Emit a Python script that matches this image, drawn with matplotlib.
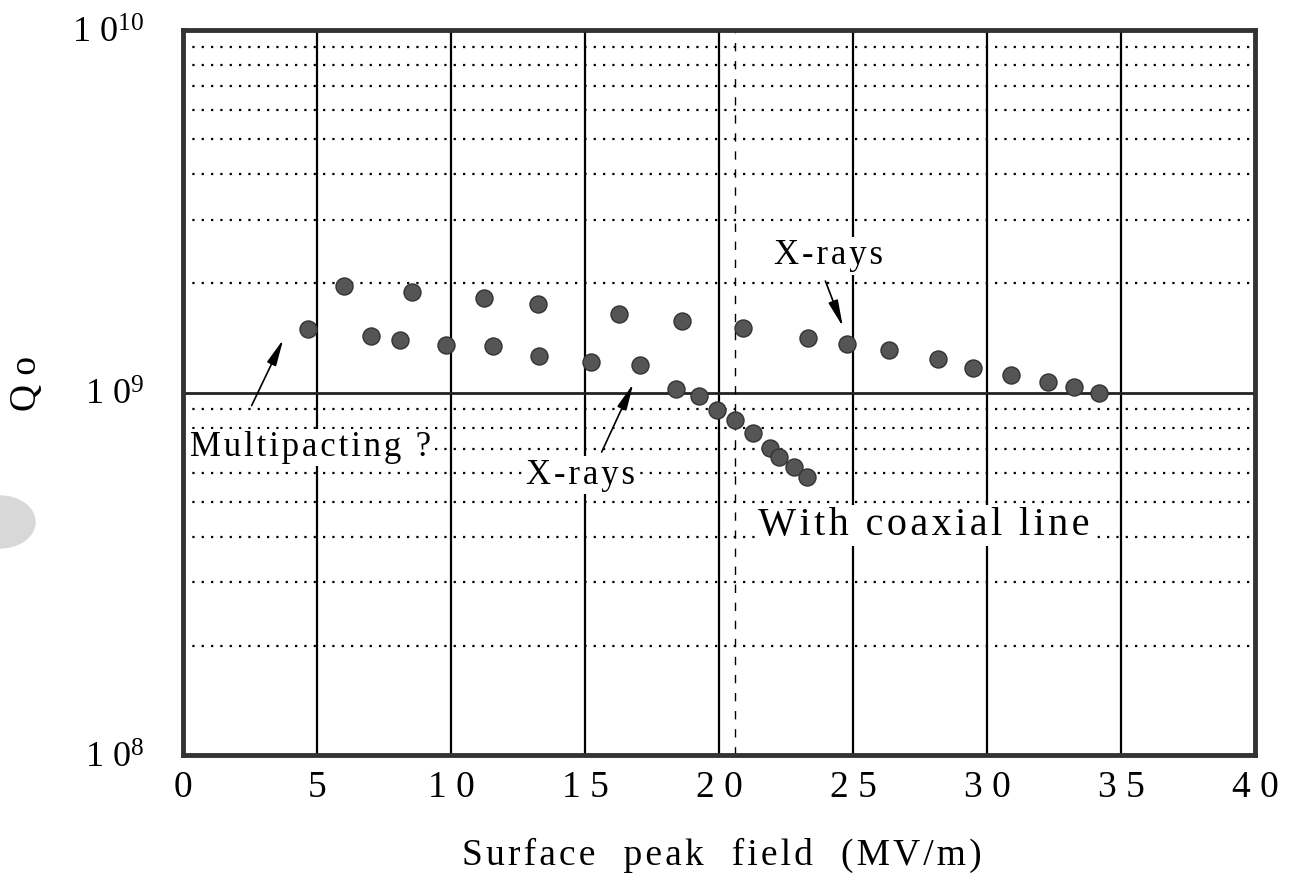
import numpy as np
import matplotlib
matplotlib.use("Agg")
import matplotlib.pyplot as plt
from matplotlib.patches import Ellipse

# surface peak field (MV/m) and Q0
field_main = [4.67, 6.02, 7.0, 8.10, 8.56, 9.80, 11.23, 11.56, 13.23, 13.29,
              15.24, 16.27, 17.05, 18.63, 20.88, 23.31, 24.76, 26.36, 28.19,
              29.47, 30.90, 32.26, 33.26, 34.18]
q0_main = [1.50e9, 1.97e9, 1.43e9, 1.40e9, 1.89e9, 1.35e9, 1.82e9, 1.34e9, 1.75e9, 1.26e9,
           1.21e9, 1.65e9, 1.19e9, 1.57e9, 1.51e9, 1.41e9, 1.36e9, 1.31e9, 1.24e9,
           1.17e9, 1.12e9, 1.07e9, 1.035e9, 0.995e9]

field_coax = [18.41, 19.24, 19.91, 20.59, 21.26, 21.90, 22.23, 22.81, 23.29]
q0_coax = [1.02e9, 0.975e9, 0.893e9, 0.838e9, 0.771e9, 0.705e9, 0.664e9, 0.624e9, 0.585e9]

x_ticks = [0, 5, 10, 15, 20, 25, 30, 35, 40]
x_ticklabels = ["0", "5", "1 0", "1 5", "2 0", "2 5", "3 0", "3 5", "4 0"]
y_ticks = [1e8, 1e9, 1e10]
y_ticklabels = [r"1 0$^{8}$", r"1 0$^{9}$", r"1 0$^{10}$"]
coax_field = 20.6

plt.rcParams.update({
    "font.family": ["Liberation Serif", "DejaVu Serif"],
    "mathtext.fontset": "custom",
    "mathtext.rm": "Liberation Serif",
    "mathtext.it": "Liberation Serif",
})


def spaced(s):
    # the printed figure has loose letter spacing
    return "\u200a".join(s)


fig = plt.figure(figsize=(13.03, 8.88), dpi=100)
ax = fig.add_axes([183 / 1303, 1 - 755 / 888, 1072 / 1303, 725 / 888])

ax.set_yscale("log")
ax.set_xlim(0, 40)
ax.set_ylim(1e8, 1e10)

# grid: solid verticals, dotted minor horizontals, solid line at 1e9
for x in x_ticks[1:-1]:
    ax.axvline(x, color="black", lw=1.6, zorder=1)
for dec in [1e8, 1e9]:
    for m in range(2, 10):
        ax.axhline(m * dec, color="black", lw=1.6, ls=(0, (1, 3.2)), zorder=1)
ax.axhline(1e9, color="#222222", lw=2.0, zorder=1)
ax.axvline(coax_field, color="black", lw=1.0, ls=(0, (6, 7)), zorder=1)

ax.scatter(field_main, q0_main, s=150, color="#555555", edgecolor="#333333", lw=1, zorder=3)
ax.scatter(field_coax, q0_coax, s=150, color="#555555", edgecolor="#333333", lw=1, zorder=3)

box = dict(facecolor="white", edgecolor="none", pad=1.5)
ax.text(0.26, 7.07e8, spaced("Multipacting ?"), fontsize=25, ha="left", va="center", bbox=box, zorder=2)
ax.text(14.85, 5.92e8, spaced("X-rays"), fontsize=25, ha="center", va="center", bbox=box, zorder=2)
ax.text(24.1, 2.38e9, spaced("X-rays"), fontsize=25, ha="center", va="center", bbox=box, zorder=2)
ax.text(21.46, 4.29e8, spaced("With coaxial line"), fontsize=29, ha="left", va="center", bbox=box, zorder=2)

arrow = dict(arrowstyle="-|>,head_length=1.6,head_width=0.3", color="black", lw=1.2, shrinkA=0, shrinkB=0)
ax.annotate("", xy=(3.74, 1.40e9), xytext=(2.56, 9.2e8), arrowprops=arrow, zorder=4)
ax.annotate("", xy=(16.80, 1.057e9), xytext=(15.62, 6.85e8), arrowprops=arrow, zorder=4)
ax.annotate("", xy=(24.62, 1.52e9), xytext=(23.97, 2.03e9), arrowprops=arrow, zorder=4)

ax.set_xticks(x_ticks)
ax.set_xticklabels(x_ticklabels, fontsize=27)
ax.set_yticks(y_ticks)
ax.set_yticklabels(y_ticklabels, fontsize=26)
ax.yaxis.set_minor_locator(matplotlib.ticker.NullLocator())
ax.tick_params(axis="both", length=0)
ax.tick_params(axis="x", pad=11)
ax.tick_params(axis="y", pad=28)

fig.text(722 / 1303, 1 - 855 / 888, spaced("Surface  peak  field  (MV/m)"), fontsize=27,
         ha="center", va="center")
fig.text(27 / 1303, 1 - 383 / 888, "Q o", fontsize=27, rotation=90, ha="center", va="center")

for sp in ax.spines.values():
    sp.set_linewidth(3.5)
    sp.set_color("#333333")
    sp.set_zorder(5)

# scanner shadow on the left edge
fig.patches.append(Ellipse((0.0, 1 - 522 / 888), 70 / 1303, 52 / 888,
                           transform=fig.transFigure, color="#d8d8d8", zorder=0))

fig.savefig("out.png", dpi=100)
